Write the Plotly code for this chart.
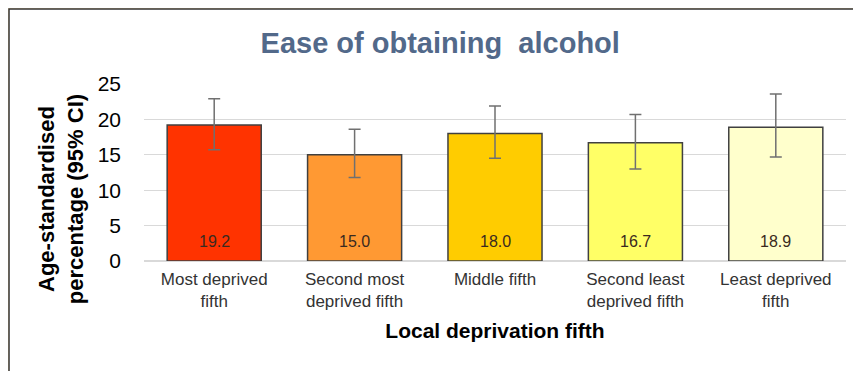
import plotly.graph_objects as go

categories = ["Most deprived<br>fifth", "Second most<br>deprived fifth", "Middle fifth",
              "Second least<br>deprived fifth", "Least deprived<br>fifth"]
values = [19.2, 15.0, 18.0, 16.7, 18.9]
ci_upper = [22.9, 18.6, 21.9, 20.7, 23.6]
ci_lower = [15.7, 11.8, 14.5, 13.0, 14.7]
bar_colors = ["#FF3300", "#FF9933", "#FFCC00", "#FFFF66", "#FFFFCC"]
y_ticks = [0, 5, 10, 15, 20, 25]

err_plus = [u - v for u, v in zip(ci_upper, values)]
err_minus = [v - l for v, l in zip(values, ci_lower)]

fig = go.Figure()
fig.add_trace(go.Bar(
    x=categories,
    y=values,
    marker=dict(color=bar_colors, line=dict(color="#404040", width=1.5)),
    error_y=dict(type="data", symmetric=False, array=err_plus, arrayminus=err_minus,
                 color="#707070", thickness=1.5, width=6),
    hoverinfo="skip",
))

# value labels sitting near the bottom of each bar
for c, v in zip(categories, values):
    fig.add_annotation(x=c, y=0, yshift=20, text=f"{v:.1f}", showarrow=False,
                       yanchor="middle",
                       font=dict(family="Liberation Sans, Arial", size=16, color="#3a2a20"))

# y axis title, placed a little lower than the plot centre as in the original
fig.add_annotation(xref="paper", yref="paper", x=-0.118, y=0.35, textangle=-90,
                   text="<b>Age-standardised<br>percentage (95% CI)</b>", showarrow=False,
                   xanchor="center", yanchor="middle",
                   font=dict(family="Liberation Sans, Arial", size=22, color="#000000"))

# beige frame with a white panel (plot area is 702 x 177 px)
fig.add_shape(type="rect", xref="paper", yref="paper",
              x0=-0.1923, x1=1.04, y0=-0.75, y1=1.4237,
              fillcolor="white", line=dict(color="#333333", width=1.5), layer="below")

fig.update_layout(
    width=861, height=371,
    paper_bgcolor="#FDE9BE",
    plot_bgcolor="rgba(0,0,0,0)",
    margin=dict(l=136, r=23, t=76, b=118),
    bargap=0.33,
    showlegend=False,
    font=dict(family="Liberation Sans, Arial", color="#000000"),
    title=dict(text="<b>Ease of obtaining  alcohol</b>", x=0.502, xanchor="center",
               y=0.906, yanchor="middle", xref="container", yref="container",
               font=dict(size=29, color="#52698A")),
)

fig.update_xaxes(
    tickfont=dict(size=17, color="#333333"),
    ticklabelstandoff=6,
    title=dict(text="<b>Local deprivation fifth</b>", font=dict(size=21, color="#000000"), standoff=13),
    showgrid=False, showline=False, ticks="",
)
fig.update_yaxes(
    range=[0, 25], tickvals=y_ticks,
    tickfont=dict(size=21, color="#000000"),
    ticklabelstandoff=22,
    showgrid=True, gridcolor="#D9D9D9", gridwidth=1,
    zeroline=True, zerolinecolor="#D9D9D9", zerolinewidth=1.5,
)

fig.write_html("out.html")
